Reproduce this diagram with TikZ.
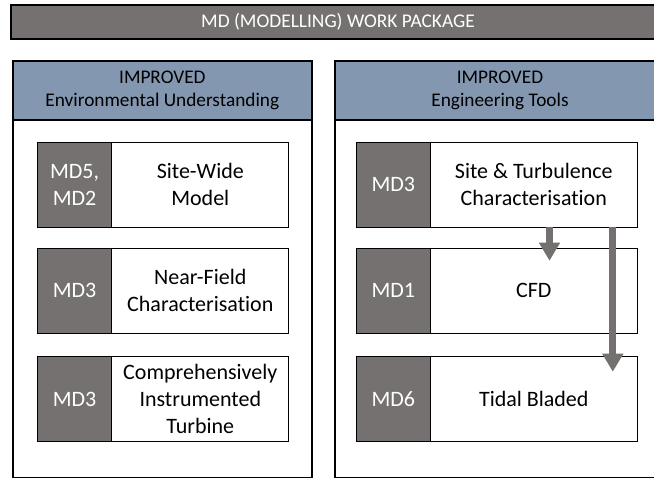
\documentclass[tikz,border=0pt]{standalone}
\usepackage{fontspec}
\setmainfont{Carlito}[Ligatures=NoCommon]
\usetikzlibrary{arrows.meta, positioning}
\definecolor{mdgrey}{HTML}{767171}
\definecolor{mdblue}{HTML}{8497B0}
\definecolor{arrowgrey}{HTML}{747070}

\begin{document}
\begin{tikzpicture}[x=1pt, y=-1pt, >=Stealth,
  every node/.style={align=center, inner sep=0pt, outer sep=0pt},
  titlebar/.style={draw=black, line width=1.3pt, fill=mdgrey, text=white, anchor=north west, minimum width=654pt, minimum height=34pt, font=\fontsize{19.4}{23}\selectfont},
  panel/.style={draw=black, line width=2pt, anchor=north west, minimum height=416.7pt},
  panelhead/.style={draw=black, line width=2pt, fill=mdblue, anchor=north west, minimum height=59pt, font=\fontsize{19.3}{23}\selectfont},
  tagbox/.style={draw=black, line width=0.8pt, fill=mdgrey, text=white, anchor=north west, minimum width=74.5pt, minimum height=85pt, font=\fontsize{22}{27}\selectfont},
  descbox/.style={draw=black, line width=0.8pt, fill=white, anchor=north west, minimum height=85pt, font=\fontsize{22}{27}\selectfont},
  flowarrow/.style={-{Triangle[width=20pt, length=18pt]}, draw=arrowgrey, line width=7.3pt}]
\useasboundingbox (0,0) rectangle (654,478);

\node[titlebar] (wp) at (11,5) {MD (MODELLING) WORK PACKAGE};

\node[panel, minimum width=299.3pt] (envpanel) at (12.7,61) {};
\node[panelhead, minimum width=299.3pt] (envhead) at (12.7,61) {IMPROVED\\Environmental Understanding};
\node[panel, minimum width=330.6pt] (engpanel) at (334.7,61) {};
\node[panelhead, minimum width=330.6pt] (enghead) at (334.7,61) {IMPROVED\\Engineering Tools};

\node[tagbox] (swtag) at (37.3,142.3) {MD5,\\MD2};
\node[descbox, right=0pt of swtag, minimum width=177pt] (swdesc) {Site-Wide\\Model};
\node[tagbox] (nftag) at (37.3,248.3) {MD3};
\node[descbox, right=0pt of nftag, minimum width=177pt] (nfdesc) {Near-Field\\Characterisation};
\node[tagbox] (cittag) at (37.3,356.7) {MD3};
\node[descbox, right=0pt of cittag, minimum width=177pt] (citdesc) {Comprehensively\\Instrumented\\Turbine};

\node[tagbox] (sttag) at (356,142.3) {MD3};
\node[descbox, right=0pt of sttag, minimum width=206.6pt] (stdesc) {Site \& Turbulence\\Characterisation};
\node[tagbox] (cfdtag) at (356,248.3) {MD1};
\node[descbox, right=0pt of cfdtag, minimum width=206.6pt] (cfddesc) {CFD};
\node[tagbox] (tbtag) at (356,356.7) {MD6};
\node[descbox, right=0pt of tbtag, minimum width=206.6pt] (tbdesc) {Tidal Bladed};

\draw[flowarrow, shorten >=-12.4pt] ([xshift=15.7pt]stdesc.south) -- ([xshift=15.7pt]cfddesc.north);
\draw[flowarrow, shorten >=-15pt] ([xshift=79pt]stdesc.south) -- ([xshift=79pt]tbdesc.north);
\end{tikzpicture}
\end{document}
